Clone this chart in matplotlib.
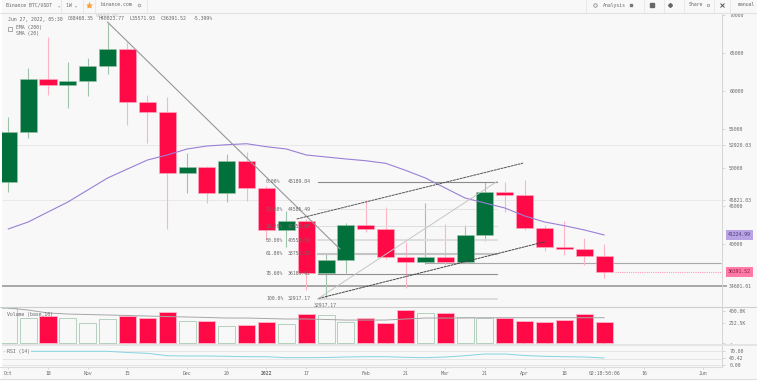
import matplotlib
matplotlib.use('Agg')
import matplotlib.pyplot as plt
from matplotlib.lines import Line2D
from matplotlib.patches import Rectangle

W, H = 757, 384
BG = '#f8f8f8'
RED = '#ff0a46'
GREEN = '#01703a'
RED_WICK = '#ffb4c6'
GREEN_WICK = '#9fc2ad'
TXT = '#6a6a6a'
MONO = 'DejaVu Sans Mono'
FS = 3.5
X0, X1 = -0.317, 35.91

# Weekly candles
opens = [48172, 54660, 61540, 60835, 61318, 63316, 65535, 58616, 57270, 49347, 50090, 46658, 50835, 47310, 41867,
         43080, 36213, 37950, 42544, 42000, 38380, 37690, 38380, 37690, 41250, 46787, 46397, 42125, 39645, 39430, 38468.35]
highs = [56620, 63016, 67063, 63799, 64321, 68890, 66449, 59490, 59230, 51958, 50222, 51827, 52089, 47611, 44386,
         43303, 38903, 42800, 45783, 44870, 40340, 45430, 42650, 42544, 48189, 48134, 48395, 42520, 43040, 40780, 40023.77]
lows = [46830, 53916, 59490, 57833, 59400, 62271, 55574, 53263, 42000, 46697, 45430, 45522, 45692, 40560, 39686,
        34034, 32917, 36213, 41605, 38080, 34330, 37430, 37300, 37690, 40430, 44255, 41867, 39160, 38610, 37300, 35571.93]
closes = [54660, 61540, 60835, 61318, 63316, 65535, 58616, 57270, 49347, 50090, 46658, 50835, 47310, 41867, 43080,
          36213, 37950, 42544, 42000, 38380, 37690, 38380, 37690, 41250, 46787, 46437, 42125, 39686, 39430, 38470, 36391.52]

sma20 = [42000, 42910, 44220, 45520, 47090, 48655, 49830, 51000, 51660, 52440, 52830, 53000, 53130, 52740, 52440, 51660,
         51400, 51140, 50910, 50575, 49660, 48655, 47350, 46040, 45390, 44740, 43700, 42910, 42430, 41870, 41224.99]

volume = [437, 309, 337, 316, 254, 296, 341, 316, 387, 275, 275, 208, 221, 266, 233, 358,
          350, 262, 308, 246, 408, 379, 371, 329, 312, 316, 271, 262, 283, 366, 258]
volume_ma = [437, 412, 375, 362, 356, 350, 344, 337, 331, 325, 319, 312, 312, 306, 300, 300,
             294, 287, 287, 287, 300, 312, 312, 312, 316, 316, 316, 316, 316, 316, 316]

rsi = [68.7, 68.7, 68.7, 68.7, 68.7, 68.7, 63.7, 60.3, 50.1, 48.9, 48.9, 47.6, 45.9, 45.9, 41.7, 41.7,
       42.5, 44.6, 45.9, 45.9, 43.4, 41.7, 44.6, 50.1, 57.3, 57.3, 51, 47.6, 45.9, 44.6, 40.42]

fib_pct = ['0.00%', '23.60%', '38.20%', '50.00%', '61.80%', '78.60%', '100.0%']
fib_price = [48189.84, 44585.49, 42355.88, 40553.50, 38751.33, 36185.62, 32917.17]
fib_color = ['#8a8a8a', '#e2e2e2', '#dddddd', '#dcdcdc', '#c4c4c4', '#8f8f8f', '#d8d8d8']
fib_width = [0.8, 0.7, 0.7, 1.3, 1.5, 0.8, 1.2]

price_ticks = [70000, 65000, 60000, 55000, 52920.03, 50000, 45821.03, 45000, 40000, 34601.01]
price_labels = ['70000', '65000', '60000', '55000', '52920.03', '50000', '45821.03', '45000', '40000', '34601.01']

time_pos = [0, 2, 4, 6, 9, 11, 13, 15, 18, 20, 22, 24, 26, 28, 30, 32, 35]
time_labels = ['Oct', '18', 'Nov', '15', 'Dec', '20', '2022', '17', 'Feb', '21', 'Mar', '21', 'Apr', '18',
               '02:18:50:06', '16', 'Jun']


def panel(y0, y1):
    a = fig.add_axes([2 / W, 1 - y1 / H, 719.5 / W, (y1 - y0) / H])
    a.set_facecolor(BG)
    a.set_xlim(X0, X1)
    for s in ['top', 'left', 'bottom']:
        a.spines[s].set_visible(False)
    a.spines['right'].set_color('#d4d4d4')
    a.spines['right'].set_linewidth(0.7)
    a.yaxis.tick_right()
    a.tick_params(axis='y', length=2, width=0.4, color='#bbbbbb', pad=3.5, labelsize=FS, labelcolor=TXT)
    a.set_xticks([])
    return a


fig = plt.figure(figsize=(W / 100, H / 100), dpi=100, facecolor=BG)
ax = panel(13, 307)
ax_vol = panel(307, 344)
ax_rsi = panel(346, 367)

ax.set_ylim(31814, 70196)
ax_vol.set_ylim(-12.5, 450)
ax_rsi.set_ylim(2.3, 91.2)

# Price panel
ax.hlines([52920.03, 45821.03], X0, X1, color='#e6e6e6', lw=0.6, zorder=1)
ax.hlines(34601.01, X0, 36.2, color='#9a9a9a', lw=1.2, zorder=1, clip_on=False)
ax.hlines(37520, 21, X1, color='#a8a8a8', lw=0.8, zorder=1)

for i in range(len(opens)):
    up = closes[i] >= opens[i]
    ax.vlines(i, lows[i], highs[i], color=GREEN_WICK if up else RED_WICK, lw=0.8, zorder=2)
    ax.bar(i, abs(closes[i] - opens[i]), 0.86, bottom=min(opens[i], closes[i]),
           color=GREEN if up else RED, edgecolor='#9cc4ab' if up else '#ffb0c4', linewidth=0.4, zorder=3)

ax.plot(range(len(sma20)), sma20, color='#9a7fd6', lw=0.8, zorder=4)
ax.hlines(36391.52, 30.55, X1, color='#ff9db8', lw=0.8, linestyles=(0, (1, 1)), zorder=2)

# Fibonacci drawing
for pct, p, c, w in zip(fib_pct, fib_price, fib_color, fib_width):
    ax.plot([15.6, 24.6], [p, p], color=c, lw=w, zorder=5 if c == '#8f8f8f' else 2)
    ax.text(12.98, p, pct, family=MONO, fontsize=FS, color=TXT, va='center', zorder=6)
    ax.text(14.08, p, '%.2f' % p, family=MONO, fontsize=FS, color=TXT, va='center', zorder=6)

# Trend lines
ax.plot([5, 16.7], [69000, 39386], color='#979797', lw=0.8, zorder=5)
ax.plot([14.52, 25.92], [43300, 50600], color='#555555', lw=0.7, ls=(0, (3, 0.6)), zorder=5)
ax.plot([15.6, 27.02], [32917, 40340], color='#444444', lw=0.7, ls=(0, (3, 0.6)), zorder=5)
ax.plot([15.6, 24.6], [32917, 48189], color='#c6c6c6', lw=0.7, zorder=5)

ax.text(5, 69850, '69000.00', family=MONO, fontsize=FS, color='#c4c4c4', ha='center', va='center', zorder=6)
ax.text(15.97, 32000, '32917.17', family=MONO, fontsize=FS, color=TXT, ha='center', va='center', zorder=6)

ax.set_yticks(price_ticks)
ax.set_yticklabels(price_labels, family=MONO)

ax.text(36.24, 41224.99, '41224.99', family=MONO, fontsize=FS, color='#4d3b80', va='center', zorder=7, clip_on=False,
        bbox=dict(boxstyle='square,pad=0.5', fc='#b9a4e3', ec='none'))
ax.text(36.24, 36391.52, '36391.52', family=MONO, fontsize=FS, color='#8a1c45', va='center', zorder=7, clip_on=False,
        bbox=dict(boxstyle='square,pad=0.5', fc='#ff7aa6', ec='none'))

# Volume panel
for i in range(len(volume)):
    up = closes[i] >= opens[i]
    ax_vol.bar(i, volume[i], 0.86, color=BG if up else RED, edgecolor='#b4d0bf' if up else '#ffb0c4',
               linewidth=0.7, zorder=2)
ax_vol.plot(range(len(volume_ma)), volume_ma, color='#a6a6a6', lw=0.7, zorder=3)
ax_vol.set_yticks([400, 252.5, 0])
ax_vol.set_yticklabels(['400.0K', '252.5K', '-'], family=MONO)
ax_vol.set_xlim(X0, X1)
ax_vol.text(0.007, 0.81, 'Volume (base,10)', family=MONO, fontsize=FS, color=TXT, va='center',
            transform=ax_vol.transAxes, zorder=5)

# RSI panel
ax_rsi.hlines([70, 36, 11], X0, X1, color='#e2e2e2', lw=0.6, zorder=1)
ax_rsi.plot(range(1, len(rsi)), rsi[1:], color='#86d3e2', lw=0.7, zorder=2)
ax_rsi.set_yticks([70, 40.42, 11])
ax_rsi.set_yticklabels(['70.00', '40.42', '0.00'], family=MONO)
ax_rsi.set_xlim(X0, X1)
ax_rsi.text(0.007, 70, 'RSI (14)', family=MONO, fontsize=FS, color=TXT, va='center',
            transform=ax_rsi.get_yaxis_transform(), zorder=5,
            bbox=dict(boxstyle='square,pad=0.1', fc=BG, ec='none'))
ax_rsi.set_xticks(time_pos)
ax_rsi.set_xticklabels(time_labels, family=MONO)
ax_rsi.tick_params(axis='x', length=1.5, width=0.4, color='#bbbbbb', pad=1.5, labelsize=FS, labelcolor=TXT)
ax_rsi.get_xticklabels()[6].set_fontweight('bold')

# Frame lines and bands
fig.add_artist(Line2D([0, 1], [1 - 12.5 / H] * 2, color='#e2e2e2', lw=0.8))
fig.add_artist(Line2D([0, 1], [1 - 307.3 / H] * 2, color='#cfcfcf', lw=0.8))
fig.add_artist(Rectangle((0, 1 - 346.3 / H), 1, 2.3 / H, color='#e4e4e4', lw=0, transform=fig.transFigure))
fig.add_artist(Line2D([0, 721.5 / W], [1 - 367 / H] * 2, color='#dddddd', lw=0.8))
fig.add_artist(Rectangle((0, 0), 1, 5 / H, color='white', lw=0, transform=fig.transFigure))
fig.add_artist(Rectangle((0, 0), 2 / W, 1, color='white', lw=0, transform=fig.transFigure))
fig.add_artist(Line2D([0, 1], [1 - 379 / H] * 2, color='#dcdcdc', lw=0.8))

# Toolbar
for px in [61, 83, 95, 147, 585.7, 644, 664, 684, 714, 730]:
    fig.add_artist(Line2D([px / W, px / W], [1 - 12 / H, 1], color='#e6e6e6', lw=0.6))


def label(px, py, s, color=TXT, **kw):
    fig.text(px / W, 1 - py / H, s, family=MONO, fontsize=FS, color=color, va='center', **kw)


def icon(px, py, marker, ms=3, color='#777777', **kw):
    fig.add_artist(Line2D([px / W], [1 - py / H], marker=marker, ms=ms, color=color, **kw))


label(6.5, 5, 'Binance BTC/USDT  ⌄')
label(66, 5, '1W ⌄')
label(100, 5, 'binance.com')
label(603, 5, 'Analysis')
label(689, 5, 'Share')
label(738, 5, 'manual')
icon(88.7, 5, '*', ms=6, color='#f5a33a', mec='none')
icon(139, 4.5, 'o', ms=2, mfc='none', mew=0.4)
icon(595, 5, 'o', ms=2.5, mfc='none', mew=0.5)
icon(631, 5, 's', ms=2)
icon(652, 5, 's', ms=2.5, color='#666666')
icon(670, 5, 'D', ms=2, color='#666666')
icon(708, 5, 's', ms=2, mfc='none', mew=0.4)
icon(722, 5, 'x', ms=3, mew=0.7, color='#555555')

label(7.5, 19, 'Jun 27, 2022, 05:30')
label(68, 19, 'O38468.35')
label(99, 19, 'H40023.77')
label(130, 19, 'L35571.93')
label(161, 19, 'C36391.52')
label(192, 19, '-5.399%')
label(16, 28, 'EMA (200)')
label(16, 33.5, 'SMA (20)')
fig.add_artist(Rectangle((7.5 / W, 1 - 30.5 / H), 4 / W, 4 / H, fc='none', ec='#888888', lw=0.5,
                         transform=fig.transFigure))

fig.savefig('out.png', dpi=100, facecolor=BG)
